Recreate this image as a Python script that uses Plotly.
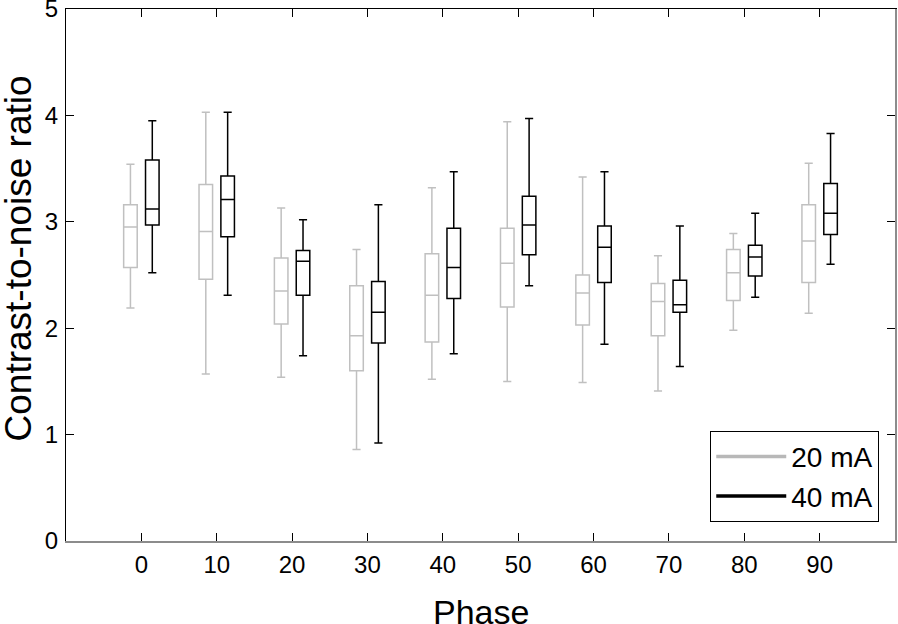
import plotly.graph_objects as go

# Contrast-to-noise ratio per phase, two tube currents (box stats)
phases = [0, 10, 20, 30, 40, 50, 60, 70, 80, 90]

low_20 = [2.19, 1.57, 1.54, 0.86, 1.52, 1.50, 1.49, 1.41, 1.98, 2.14]
q1_20 = [2.57, 2.46, 2.04, 1.60, 1.87, 2.20, 2.03, 1.93, 2.26, 2.43]
med_20 = [2.95, 2.91, 2.35, 1.93, 2.31, 2.61, 2.33, 2.25, 2.52, 2.82]
q3_20 = [3.16, 3.35, 2.66, 2.40, 2.70, 2.94, 2.50, 2.42, 2.74, 3.16]
high_20 = [3.54, 4.03, 3.13, 2.74, 3.32, 3.94, 3.42, 2.68, 2.89, 3.55]

low_40 = [2.52, 2.31, 1.74, 0.92, 1.76, 2.40, 1.85, 1.64, 2.29, 2.60]
q1_40 = [2.97, 2.86, 2.31, 1.86, 2.28, 2.69, 2.43, 2.15, 2.49, 2.88]
med_40 = [3.12, 3.21, 2.63, 2.15, 2.57, 2.97, 2.76, 2.22, 2.67, 3.08]
q3_40 = [3.58, 3.43, 2.73, 2.44, 2.94, 3.24, 2.96, 2.45, 2.78, 3.36]
high_40 = [3.95, 4.03, 3.02, 3.16, 3.47, 3.97, 3.47, 2.96, 3.08, 3.83]

y_ticks = [0, 1, 2, 3, 4, 5]

GRAY = '#c0c0c0'
BLACK = '#000000'
FONT = 'Liberation Sans, Arial, Helvetica, sans-serif'

cats = [str(p) for p in phases]

fig = go.Figure()

for name, color, lo, q1, md, q3, hi in [
    ('20 mA', GRAY, low_20, q1_20, med_20, q3_20, high_20),
    ('40 mA', BLACK, low_40, q1_40, med_40, q3_40, high_40),
]:
    fig.add_trace(go.Box(
        x=cats, q1=q1, median=md, q3=q3, lowerfence=lo, upperfence=hi,
        name=name, boxpoints=False, whiskerwidth=0.6,
        line=dict(color=color, width=1.5),
        fillcolor='rgba(0,0,0,0)', showlegend=False,
    ))

# legend entries drawn as plain lines, like the original
for name, color in [('20 mA', '#b8b8b8'), ('40 mA', BLACK)]:
    fig.add_trace(go.Scatter(
        x=[None], y=[None], mode='lines', name=name,
        line=dict(color=color, width=3.5),
    ))

# empty trace so the top / right frame axes get drawn
fig.add_trace(go.Scatter(x=[], y=[], xaxis='x2', yaxis='y2',
                         showlegend=False, hoverinfo='skip'))

fig.update_layout(
    width=898, height=624,
    margin=dict(l=66, r=3, t=9, b=83),
    paper_bgcolor='white', plot_bgcolor='white',
    font=dict(family=FONT, color='black'),
    boxmode='group', boxgap=0.42, boxgroupgap=0.38,
    xaxis=dict(
        type='category', range=[-1, 10], automargin=False,
        showline=True, linecolor='#8c8c8c', linewidth=2,
        ticks='inside', ticklen=8, tickcolor='black', tickwidth=1,
        tickfont=dict(size=24), ticklabelstandoff=1,
        showgrid=False, zeroline=False,
    ),
    yaxis=dict(
        range=[0, 5], tickmode='array', tickvals=y_ticks, automargin=False,
        showline=True, linecolor='black', linewidth=1,
        ticks='inside', ticklen=8, tickcolor='black', tickwidth=1,
        tickfont=dict(size=24), ticklabelstandoff=2, ticklabeloverflow='allow',
        showgrid=False, zeroline=False,
    ),
    xaxis2=dict(
        type='linear', overlaying='x', side='top', anchor='y2', range=[-1, 10],
        tickmode='array', tickvals=list(range(len(phases))), showticklabels=False,
        showline=True, linecolor='black', linewidth=1, automargin=False,
        ticks='inside', ticklen=8, tickcolor='black',
        showgrid=False, zeroline=False,
    ),
    yaxis2=dict(
        overlaying='y', side='right', anchor='x2', range=[0, 5],
        tickmode='array', tickvals=y_ticks, showticklabels=False,
        showline=True, linecolor='#8c8c8c', linewidth=2, automargin=False,
        ticks='inside', ticklen=8, tickcolor='black',
        showgrid=False, zeroline=False,
    ),
    legend=dict(
        x=0.981, y=0.036, xanchor='right', yanchor='bottom',
        bgcolor='white', bordercolor='black', borderwidth=1,
        font=dict(size=28), tracegroupgap=0, itemwidth=70,
    ),
)

# axis titles as annotations so they can sit closer to the page edge
fig.add_annotation(text='Phase', xref='paper', yref='paper', x=0.5, y=0,
                   xanchor='center', yanchor='top', yshift=-50,
                   showarrow=False, font=dict(size=34))
fig.add_annotation(text='Contrast-to-noise ratio', xref='paper', yref='paper',
                   x=0, y=0.5, xanchor='left', yanchor='middle',
                   xshift=-71, yshift=16, textangle=-90,
                   showarrow=False, font=dict(size=37))

# the page's default 8px body margin would shift the whole chart
fig.write_html('out.html', config={'displayModeBar': False},
               post_script="document.body.style.margin='0';")
